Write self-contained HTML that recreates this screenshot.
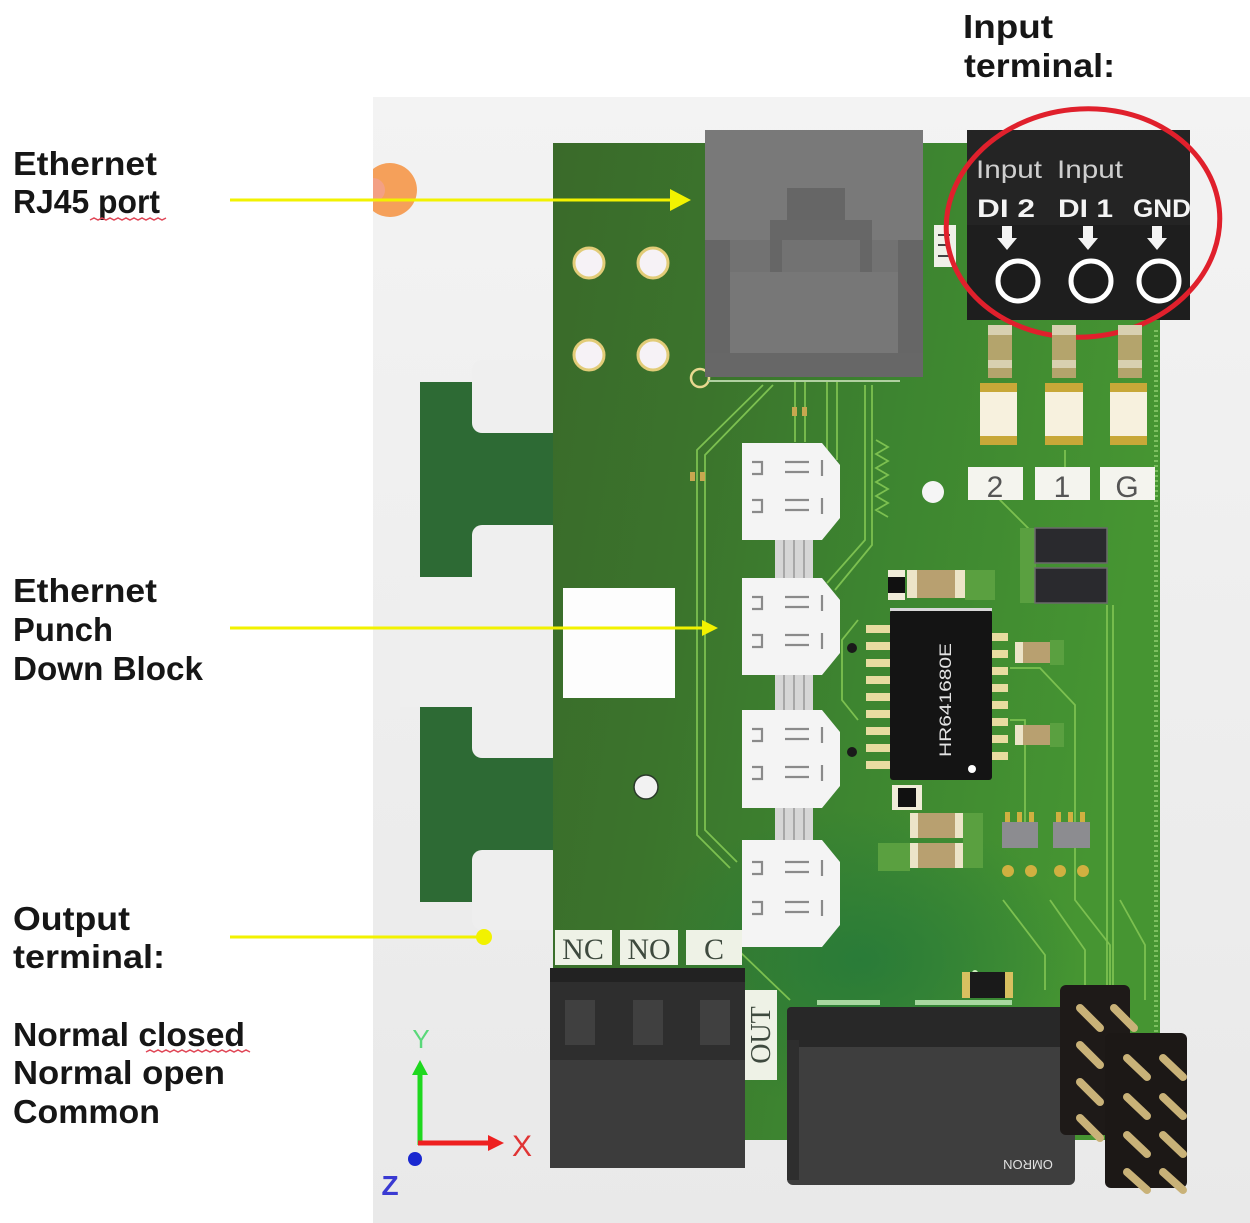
<!DOCTYPE html>
<html>
<head>
<meta charset="utf-8">
<style>
html,body{margin:0;padding:0;background:#fff;}
body{width:1250px;height:1223px;overflow:hidden;}
svg{display:block;}
.lbl{font-family:"Liberation Sans",sans-serif;font-weight:bold;font-size:33px;fill:#161616;}
</style>
</head>
<body>
<svg width="1250" height="1223" viewBox="0 0 1250 1223" xmlns="http://www.w3.org/2000/svg">
<defs>
  <linearGradient id="pnl" x1="0" y1="0" x2="0" y2="1">
    <stop offset="0" stop-color="#f3f3f3"/>
    <stop offset="1" stop-color="#e9e9e9"/>
  </linearGradient>
  <linearGradient id="brd" x1="0" y1="0" x2="1" y2="0.25">
    <stop offset="0" stop-color="#3a6a2a"/>
    <stop offset="0.3" stop-color="#3b742c"/>
    <stop offset="0.6" stop-color="#3d8530"/>
    <stop offset="1" stop-color="#469532"/>
  </linearGradient>
  <radialGradient id="blu" cx="0.5" cy="0.5" r="0.5">
    <stop offset="0" stop-color="#24783a" stop-opacity="0.8"/>
    <stop offset="1" stop-color="#24783a" stop-opacity="0"/>
  </radialGradient>
</defs>

<!-- panel -->
<rect x="373" y="97" width="877" height="1126" fill="url(#pnl)"/>
<path d="M373,169 A27,27 0 1 1 373,211 Z" fill="#f5a05a"/>
<path d="M373,178 A12,12 0 0 1 385,190 A12,12 0 0 1 373,202 Z" fill="#f2a0a0" opacity="0.6"/>

<!-- left tabs -->
<rect x="420" y="382" width="140" height="520" fill="#2d6a34"/>
<rect x="472" y="360" width="90" height="73" rx="10" fill="#efefef"/>
<rect x="472" y="525" width="90" height="233" rx="10" fill="#efefef"/>
<rect x="400" y="577" width="90" height="130" fill="#efefef"/>
<rect x="472" y="850" width="90" height="80" rx="10" fill="#eeeeee"/>

<!-- main board -->
<rect x="553" y="143" width="607" height="997" fill="url(#brd)"/>
<ellipse cx="860" cy="960" rx="220" ry="150" fill="url(#blu)"/>
<line x1="1156" y1="330" x2="1156" y2="1130" stroke="#7cc060" stroke-width="4" stroke-dasharray="2 3"/>

<!-- traces -->
<g fill="none" stroke="#7cc050" stroke-width="1.8">
  <polyline points="763,385 697,450 697,835 730,868"/>
  <polyline points="773,385 705,455 705,830 737,862"/>
  <line x1="795" y1="380" x2="795" y2="442"/>
  <line x1="805" y1="380" x2="805" y2="442"/>
  <line x1="827" y1="380" x2="827" y2="460"/>
  <line x1="837" y1="380" x2="837" y2="460"/>
  <polyline points="865,385 865,540 827,583"/>
  <polyline points="872,385 872,545 835,590"/>
  <polyline points="876,440 888,447 876,454 888,461 876,468 888,475 876,482 888,489 876,496 888,503 876,510 888,517"/>
  <line x1="1107" y1="605" x2="1107" y2="1000"/>
  <line x1="1113" y1="605" x2="1113" y2="1000"/>
  <polyline points="1010,668 1040,668 1075,705 1075,900 1110,945 1110,990"/>
  <polyline points="1010,720 1025,720 1025,830"/>
  <polyline points="1003,900 1045,955 1045,990"/>
  <polyline points="1120,900 1145,945 1145,1000"/>
  <polyline points="1050,900 1085,950 1085,985"/>
  <polyline points="738,950 790,1000"/>
  <polyline points="858,620 842,640 842,700 858,720"/>
  <polyline points="1000,470 1000,500 1060,560"/>
  <polyline points="1065,450 1065,500"/>
</g>
<g fill="#c8a850">
  <rect x="792" y="407" width="5" height="9"/><rect x="802" y="407" width="5" height="9"/>
  <rect x="690" y="472" width="5" height="9"/><rect x="700" y="472" width="5" height="9"/>
</g>
<circle cx="975" cy="973" r="3" fill="#d0f0c0"/>

<!-- mounting holes -->
<g fill="#f6f2f6" stroke="#e2cc78" stroke-width="3">
  <circle cx="589" cy="263" r="15"/><circle cx="653" cy="263" r="15"/>
  <circle cx="589" cy="355" r="15"/><circle cx="653" cy="355" r="15"/>
</g>
<circle cx="700" cy="378" r="9" fill="none" stroke="#e8d890" stroke-width="2.5"/>
<rect x="563" y="588" width="112" height="110" fill="#fdfdfd"/>
<circle cx="646" cy="787" r="12" fill="#f2f2f2" stroke="#2a3a2a" stroke-width="1.5"/>
<circle cx="933" cy="492" r="11" fill="#f5f5f5"/>

<!-- RJ45 -->
<rect x="705" y="130" width="218" height="247" fill="#727272"/>
<rect x="705" y="130" width="218" height="110" fill="#797979"/>
<rect x="705" y="240" width="25" height="137" fill="#666"/>
<rect x="898" y="240" width="25" height="137" fill="#666"/>
<rect x="787" y="188" width="58" height="34" fill="#666"/>
<rect x="770" y="220" width="102" height="52" fill="#676767"/>
<rect x="770" y="240" width="102" height="32" fill="#727272"/>
<rect x="770" y="240" width="12" height="32" fill="#666"/>
<rect x="860" y="240" width="12" height="32" fill="#666"/>
<rect x="730" y="272" width="168" height="82" fill="#777"/>
<rect x="705" y="353" width="218" height="24" fill="#676767"/>
<line x1="708" y1="381" x2="900" y2="381" stroke="#b0d0a0" stroke-width="2"/>
<rect x="934" y="225" width="22" height="42" fill="#f0f0e8"/>
<path d="M938 235 h12 M938 245 h10 M938 256 h12" stroke="#444" stroke-width="2"/>

<!-- input terminal -->
<rect x="967" y="130" width="223" height="190" fill="#242424"/>
<rect x="967" y="225" width="223" height="95" fill="#1e1e1e"/>
<g font-family="Liberation Sans, sans-serif" font-size="25" fill="#cfcfcf">
  <text x="976" y="178" textLength="66" lengthAdjust="spacingAndGlyphs">Input</text>
  <text x="1057" y="178" textLength="66" lengthAdjust="spacingAndGlyphs">Input</text>
</g>
<g font-family="Liberation Sans, sans-serif" font-size="25" font-weight="bold" fill="#f4f4f4">
  <text x="977" y="217" textLength="58" lengthAdjust="spacingAndGlyphs">DI 2</text>
  <text x="1058" y="217" textLength="55" lengthAdjust="spacingAndGlyphs">DI 1</text>
  <text x="1133" y="217" textLength="58" lengthAdjust="spacingAndGlyphs">GND</text>
</g>
<g fill="#f4f4f4">
  <path d="M1002 226 h10 v12 h5 l-10 12 l-10 -12 h5z"/>
  <path d="M1083 226 h10 v12 h5 l-10 12 l-10 -12 h5z"/>
  <path d="M1152 226 h10 v12 h5 l-10 12 l-10 -12 h5z"/>
</g>
<g fill="#1c1c1c" stroke="#ffffff" stroke-width="5">
  <circle cx="1018" cy="281" r="20"/>
  <circle cx="1091" cy="281" r="20"/>
  <circle cx="1159" cy="281" r="20"/>
</g>
<ellipse cx="1083" cy="223" rx="137" ry="114" fill="none" stroke="#e0202c" stroke-width="5" transform="rotate(-6 1083 223)"/>

<!-- resistors / caps under input -->
<g>
  <rect x="988" y="325" width="24" height="53" fill="#b4a46c"/>
  <rect x="1052" y="325" width="24" height="53" fill="#b4a46c"/>
  <rect x="1118" y="325" width="24" height="53" fill="#b4a46c"/>
  <g fill="#d8d0b0">
    <rect x="988" y="325" width="24" height="10"/><rect x="1052" y="325" width="24" height="10"/><rect x="1118" y="325" width="24" height="10"/>
    <rect x="988" y="360" width="24" height="8"/><rect x="1052" y="360" width="24" height="8"/><rect x="1118" y="360" width="24" height="8"/>
  </g>
  <g fill="#f7f1de">
    <rect x="980" y="383" width="37" height="62"/><rect x="1045" y="383" width="38" height="62"/><rect x="1110" y="383" width="37" height="62"/>
  </g>
  <g fill="#c8a838">
    <rect x="980" y="383" width="37" height="9"/><rect x="1045" y="383" width="38" height="9"/><rect x="1110" y="383" width="37" height="9"/>
    <rect x="980" y="436" width="37" height="9"/><rect x="1045" y="436" width="38" height="9"/><rect x="1110" y="436" width="37" height="9"/>
  </g>
</g>
<g fill="#f4f4ee">
  <rect x="968" y="467" width="55" height="33"/>
  <rect x="1035" y="467" width="55" height="33"/>
  <rect x="1100" y="467" width="55" height="33"/>
</g>
<g font-family="Liberation Sans, sans-serif" font-size="30" fill="#555" text-anchor="middle">
  <text x="995" y="497">2</text>
  <text x="1062" y="497">1</text>
  <text x="1127" y="497">G</text>
</g>

<!-- punch down block -->
<g fill="#d6d6d6">
  <rect x="775" y="538" width="38" height="42"/>
  <rect x="775" y="673" width="38" height="39"/>
  <rect x="775" y="806" width="38" height="36"/>
</g>
<g stroke="#a8a8a8" stroke-width="2">
  <path d="M784 538 v42 M794 538 v42 M804 538 v42 M784 673 v39 M794 673 v39 M804 673 v39 M784 806 v36 M794 806 v36 M804 806 v36"/>
</g>
<g fill="#f4f4f4">
  <polygon points="742,443 822,443 840,465 840,518 822,540 742,540"/>
  <polygon points="742,578 822,578 840,600 840,653 822,675 742,675"/>
  <polygon points="742,710 822,710 840,732 840,786 822,808 742,808"/>
  <polygon points="742,840 822,840 840,862 840,925 822,947 742,947"/>
</g>
<g fill="none" stroke="#8a8a8a" stroke-width="2.2">
  <path d="M752 462 h10 v12 h-10 M785 462 h24 M785 472 h24 M822 460 v16 M752 500 h10 v12 h-10 M785 500 h24 M785 510 h24 M822 498 v16"/>
  <path d="M752 597 h10 v12 h-10 M785 597 h24 M785 607 h24 M822 595 v16 M752 635 h10 v12 h-10 M785 635 h24 M785 645 h24 M822 633 v16"/>
  <path d="M752 729 h10 v12 h-10 M785 729 h24 M785 739 h24 M822 727 v16 M752 767 h10 v12 h-10 M785 767 h24 M785 777 h24 M822 765 v16"/>
  <path d="M752 862 h10 v12 h-10 M785 862 h24 M785 872 h24 M822 860 v16 M752 902 h10 v12 h-10 M785 902 h24 M785 912 h24 M822 900 v16"/>
</g>

<!-- components around chip -->
<rect x="888" y="570" width="17" height="30" fill="#f0ecd8"/>
<rect x="888" y="577" width="17" height="16" fill="#111"/>
<rect x="907" y="570" width="58" height="28" fill="#b8a070"/>
<rect x="907" y="570" width="10" height="28" fill="#ece4c8"/>
<rect x="955" y="570" width="10" height="28" fill="#ece4c8"/>
<rect x="965" y="570" width="30" height="30" fill="#5aa040"/>
<rect x="1020" y="528" width="16" height="75" fill="#5aa040"/>
<rect x="1035" y="528" width="72" height="35" fill="#2a2a2e" stroke="#6a6a6a" stroke-width="1.5"/>
<rect x="1035" y="568" width="72" height="35" fill="#2a2a2e" stroke="#6a6a6a" stroke-width="1.5"/>
<rect x="1015" y="642" width="35" height="21" fill="#b8a070"/>
<rect x="1015" y="642" width="8" height="21" fill="#ece4c8"/>
<rect x="1050" y="640" width="14" height="25" fill="#5aa040"/>
<rect x="1015" y="725" width="35" height="20" fill="#b8a070"/>
<rect x="1015" y="725" width="8" height="20" fill="#ece4c8"/>
<rect x="1050" y="723" width="14" height="24" fill="#5aa040"/>
<rect x="892" y="785" width="30" height="25" fill="#f0ecd8"/>
<rect x="898" y="788" width="18" height="19" fill="#111"/>
<rect x="878" y="843" width="32" height="28" fill="#5aa040"/>
<rect x="910" y="813" width="53" height="25" fill="#b8a070"/>
<rect x="910" y="843" width="53" height="25" fill="#b8a070"/>
<g fill="#ece4c8">
  <rect x="910" y="813" width="8" height="25"/><rect x="955" y="813" width="8" height="25"/>
  <rect x="910" y="843" width="8" height="25"/><rect x="955" y="843" width="8" height="25"/>
</g>
<rect x="963" y="813" width="20" height="55" fill="#5aa040"/>
<g fill="#d0b040">
  <rect x="1005" y="812" width="5" height="10"/><rect x="1017" y="812" width="5" height="10"/><rect x="1029" y="812" width="5" height="10"/>
  <rect x="1056" y="812" width="5" height="10"/><rect x="1068" y="812" width="5" height="10"/><rect x="1080" y="812" width="5" height="10"/>
  <circle cx="1008" cy="871" r="6"/><circle cx="1031" cy="871" r="6"/>
  <circle cx="1060" cy="871" r="6"/><circle cx="1083" cy="871" r="6"/>
</g>
<rect x="1002" y="822" width="36" height="26" fill="#8c8c90"/>
<rect x="1053" y="822" width="37" height="26" fill="#8c8c90"/>

<!-- chip -->
<g fill="#e8dca0">
  <rect x="866" y="625" width="24" height="8"/><rect x="866" y="642" width="24" height="8"/><rect x="866" y="659" width="24" height="8"/>
  <rect x="866" y="676" width="24" height="8"/><rect x="866" y="693" width="24" height="8"/><rect x="866" y="710" width="24" height="8"/>
  <rect x="866" y="727" width="24" height="8"/><rect x="866" y="744" width="24" height="8"/><rect x="866" y="761" width="24" height="8"/>
  <rect x="990" y="633" width="18" height="8"/><rect x="990" y="650" width="18" height="8"/><rect x="990" y="667" width="18" height="8"/>
  <rect x="990" y="684" width="18" height="8"/><rect x="990" y="701" width="18" height="8"/><rect x="990" y="718" width="18" height="8"/>
  <rect x="990" y="735" width="18" height="8"/><rect x="990" y="752" width="18" height="8"/>
</g>
<circle cx="852" cy="648" r="5" fill="#1a1a1a"/>
<circle cx="852" cy="752" r="5" fill="#1a1a1a"/>
<rect x="890" y="610" width="102" height="170" rx="3" fill="#141414"/>
<rect x="890" y="608" width="102" height="3" fill="#d8d8d8"/>
<text x="0" y="0" transform="translate(951 700) rotate(-90)" font-family="Liberation Sans, sans-serif" font-size="17" fill="#e4e4e4" text-anchor="middle" textLength="114" lengthAdjust="spacingAndGlyphs">HR641680E</text>
<circle cx="972" cy="769" r="4" fill="#fff"/>

<!-- output terminal labels -->
<g fill="#eef2e6">
  <rect x="555" y="930" width="57" height="35"/>
  <rect x="620" y="930" width="58" height="35"/>
  <rect x="686" y="930" width="56" height="35"/>
  <rect x="743" y="990" width="34" height="90"/>
</g>
<g font-family="Liberation Serif, serif" font-size="30" fill="#3e4a3e" text-anchor="middle">
  <text x="583" y="959">NC</text>
  <text x="649" y="959">NO</text>
  <text x="714" y="959">C</text>
</g>
<text x="0" y="0" transform="translate(770 1035) rotate(-90)" font-family="Liberation Serif, serif" font-size="28" fill="#3e4a3e" text-anchor="middle">OUT</text>

<!-- output terminal block -->
<rect x="550" y="968" width="195" height="200" fill="#3c3c3c"/>
<rect x="550" y="968" width="195" height="92" fill="#2e2e2e"/>
<rect x="550" y="968" width="195" height="14" fill="#222"/>
<g fill="#404040">
  <rect x="565" y="1000" width="30" height="45"/><rect x="633" y="1000" width="30" height="45"/><rect x="700" y="1000" width="30" height="45"/>
</g>

<!-- relay -->
<rect x="817" y="1000" width="63" height="5" fill="#a8d8a0"/>
<rect x="915" y="1000" width="97" height="5" fill="#a8d8a0"/>
<rect x="962" y="972" width="51" height="26" fill="#1a1a1a"/>
<rect x="962" y="972" width="8" height="26" fill="#d8c060"/>
<rect x="1005" y="972" width="8" height="26" fill="#d8c060"/>
<rect x="787" y="1007" width="288" height="178" rx="6" fill="#3e3e3e"/>
<rect x="787" y="1007" width="288" height="40" rx="4" fill="#282828"/>
<rect x="787" y="1040" width="12" height="140" fill="#2e2e2e"/>
<text x="0" y="0" transform="translate(1028 1160) rotate(180)" font-family="Liberation Sans, sans-serif" font-size="13" fill="#e0e0e0" text-anchor="middle">OMRON</text>

<!-- pin headers -->
<rect x="1060" y="985" width="70" height="150" rx="6" fill="#1e1a18"/>
<g stroke="#c9b278" stroke-width="8" stroke-linecap="round">
  <line x1="1080" y1="1008" x2="1100" y2="1028"/>
  <line x1="1114" y1="1008" x2="1134" y2="1028"/>
  <line x1="1080" y1="1045" x2="1100" y2="1065"/>
  <line x1="1080" y1="1082" x2="1100" y2="1102"/>
  <line x1="1080" y1="1118" x2="1100" y2="1138"/>
</g>
<rect x="1105" y="1033" width="82" height="155" rx="6" fill="#1c1816"/>
<g stroke="#c9b278" stroke-width="8" stroke-linecap="round">
  <line x1="1127" y1="1058" x2="1147" y2="1077"/><line x1="1163" y1="1058" x2="1183" y2="1077"/>
  <line x1="1127" y1="1097" x2="1147" y2="1116"/><line x1="1163" y1="1097" x2="1183" y2="1116"/>
  <line x1="1127" y1="1135" x2="1147" y2="1154"/><line x1="1163" y1="1135" x2="1183" y2="1154"/>
  <line x1="1127" y1="1172" x2="1147" y2="1190"/><line x1="1163" y1="1172" x2="1183" y2="1190"/>
</g>

<!-- axis indicator -->
<line x1="420" y1="1070" x2="420" y2="1145" stroke="#1fd81f" stroke-width="5"/>
<polygon points="412,1075 420,1060 428,1075" fill="#1fd81f"/>
<text x="421" y="1048" font-family="Liberation Sans, sans-serif" font-size="26" fill="#5ad87a" text-anchor="middle">Y</text>
<line x1="418" y1="1143" x2="492" y2="1143" stroke="#ee2020" stroke-width="5"/>
<polygon points="488,1135 504,1143 488,1151" fill="#ee2020"/>
<text x="522" y="1156" font-family="Liberation Sans, sans-serif" font-size="30" fill="#e03434" text-anchor="middle">X</text>
<circle cx="415" cy="1159" r="7" fill="#1a28d0"/>
<text x="390" y="1195" font-family="Liberation Sans, sans-serif" font-size="28" font-weight="bold" fill="#3a3ad2" text-anchor="middle">Z</text>

<!-- yellow arrows -->
<line x1="230" y1="200" x2="674" y2="200" stroke="#f2f200" stroke-width="3"/>
<polygon points="670,189 691,200 670,211" fill="#f2f200"/>
<line x1="230" y1="628" x2="706" y2="628" stroke="#f2f200" stroke-width="3"/>
<polygon points="702,620 718,628 702,636" fill="#f2f200"/>
<line x1="230" y1="937" x2="484" y2="937" stroke="#f2f200" stroke-width="3"/>
<circle cx="484" cy="937" r="8" fill="#f2f200"/>

<!-- left labels -->
<text class="lbl" x="13" y="175" textLength="144" lengthAdjust="spacingAndGlyphs">Ethernet</text>
<text class="lbl" x="13" y="213" textLength="147" lengthAdjust="spacingAndGlyphs">RJ45 port</text>
<text class="lbl" x="13" y="602" textLength="144" lengthAdjust="spacingAndGlyphs">Ethernet</text>
<text class="lbl" x="13" y="641" textLength="100" lengthAdjust="spacingAndGlyphs">Punch</text>
<text class="lbl" x="13" y="680" textLength="190" lengthAdjust="spacingAndGlyphs">Down Block</text>
<text class="lbl" x="13" y="930" textLength="117" lengthAdjust="spacingAndGlyphs">Output</text>
<text class="lbl" x="13" y="968" textLength="152" lengthAdjust="spacingAndGlyphs">terminal:</text>
<text class="lbl" x="13" y="1046" textLength="232" lengthAdjust="spacingAndGlyphs">Normal closed</text>
<text class="lbl" x="13" y="1084" textLength="212" lengthAdjust="spacingAndGlyphs">Normal open</text>
<text class="lbl" x="13" y="1123" textLength="147" lengthAdjust="spacingAndGlyphs">Common</text>
<text class="lbl" x="963" y="38" textLength="90" lengthAdjust="spacingAndGlyphs">Input</text>
<text class="lbl" x="964" y="77" textLength="151" lengthAdjust="spacingAndGlyphs">terminal:</text>

<!-- spell-check squiggles -->
<polyline points="90,220 94,218 98,220 102,218 106,220 110,218 114,220 118,218 122,220 126,218 130,220 134,218 138,220 142,218 146,220 150,218 154,220 158,218 162,220 166,218" fill="none" stroke="#e04858" stroke-width="1.5"/>
<polyline points="146,1052 150,1050 154,1052 158,1050 162,1052 166,1050 170,1052 174,1050 178,1052 182,1050 186,1052 190,1050 194,1052 198,1050 202,1052 206,1050 210,1052 214,1050 218,1052 222,1050 226,1052 230,1050 234,1052 238,1050 242,1052 246,1050 250,1052" fill="none" stroke="#e04858" stroke-width="1.5"/>
</svg>
</body>
</html>
